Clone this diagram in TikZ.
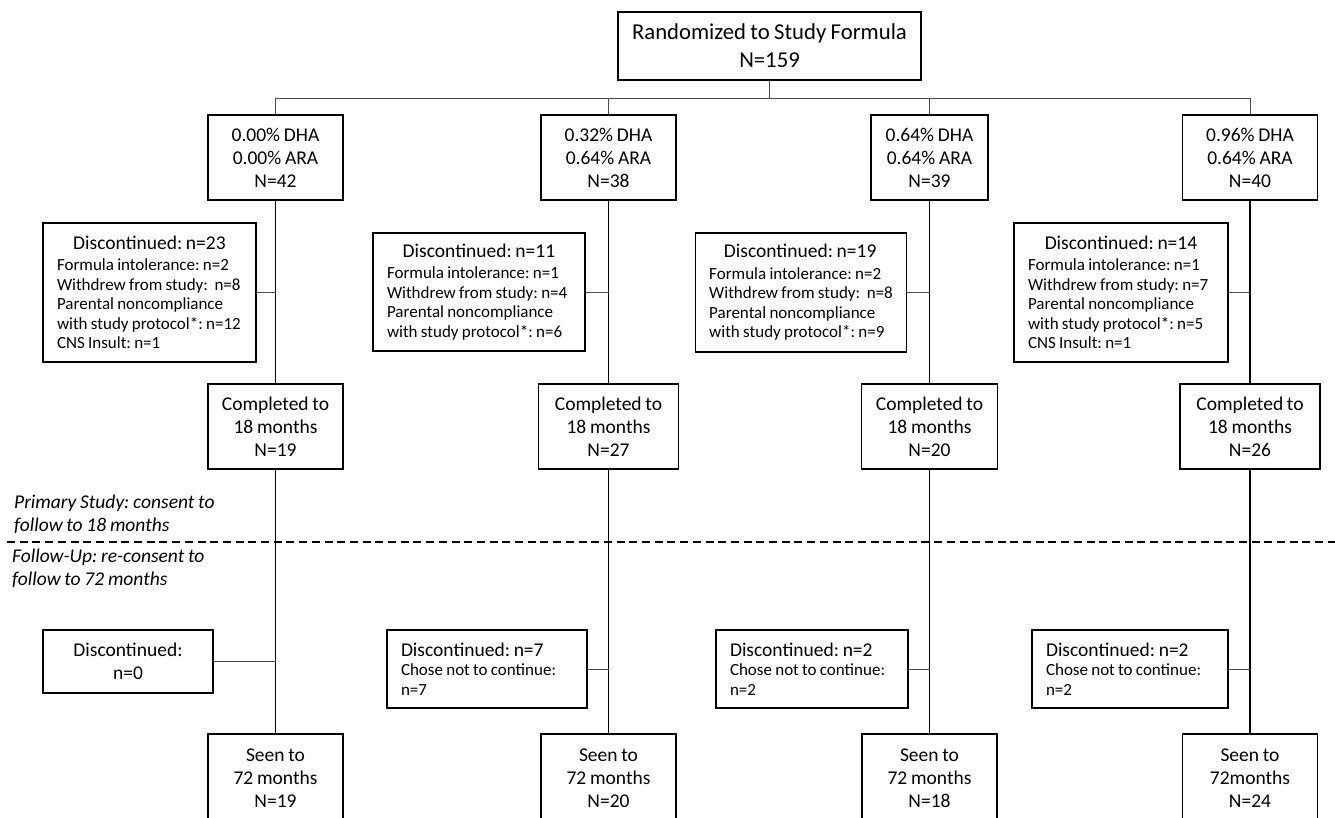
\documentclass[tikz,border=0pt]{standalone}
\usepackage{fontspec}
\setmainfont{Carlito}[WordSpace=0.85]
\usetikzlibrary{calc}
\newcommand\txttop{\fontsize{22.7}{28}\selectfont}
\newcommand\txtbig{\fontsize{19.5}{23}\selectfont}
\newcommand\txtsmall{\fontsize{17}{19.5}\selectfont}
\newcommand\droptitle[3][c]{\makebox[#2][#1]{\txtbig #3}}
\tikzset{
  box/.style={draw,line width=1.3pt,align=center,inner sep=0pt,font=\txtbig},
  dropbox/.style={draw,line width=1.3pt,align=left,inner xsep=14pt,inner ysep=0pt,font=\txtsmall},
  trunk/.style={line width=1.1pt},
  branch/.style={line width=0.8pt,gray!60!black},
  phase/.style={anchor=west,align=left,inner sep=0pt,font=\txtbig\itshape},
  divider/.style={line width=1.5pt,dash pattern=on 8pt off 4.7pt}
}

\begin{document}
\frenchspacing
\begin{tikzpicture}[x=1pt,y=-1pt]
  \useasboundingbox (0,0) rectangle (1335,817);
  \clip (0,0) rectangle (1335,817);

  % randomization and study arms
  \node[box,font=\txttop,minimum width=303,minimum height=68] (rand) at (769.5,46)
    {Randomized to Study Formula\\N=159};
  \node[box,minimum width=135,minimum height=85] (arm1) at (275.5,157.5) {0.00\% DHA\\0.00\% ARA\\N=42};
  \node[box,minimum width=135,minimum height=85] (arm2) at (608.5,157.5) {0.32\% DHA\\0.64\% ARA\\N=38};
  \node[box,minimum width=117,minimum height=85] (arm3) at (929.5,157.5) {0.64\% DHA\\0.64\% ARA\\N=39};
  \node[box,minimum width=135,minimum height=85] (arm4) at (1250,157.5) {0.96\% DHA\\0.64\% ARA\\N=40};

  % split from randomization box
  \coordinate (split) at (769.5,98);
  \draw[branch] (rand.south) -- (split);
  \draw[branch] (arm1.north |- split) -- (arm4.north |- split);
  \foreach \i in {1,...,4}
    \draw[branch] (arm\i.north) -- (arm\i.north |- split);

  % discontinued before 18 months
  \node[dropbox,minimum width=213,minimum height=139] (drop1) at (149.5,292.5)
    {\droptitle{185pt}{Discontinued: n=23}\\[2pt]
     Formula intolerance: n=2\\Withdrew from study:~ n=8\\Parental noncompliance\\with study protocol*: n=12\\CNS Insult: n=1};
  \node[dropbox,minimum width=212,minimum height=118] (drop2) at (479,292)
    {\droptitle{184pt}{Discontinued: n=11}\\[2pt]
     Formula intolerance: n=1\\Withdrew from study: n=4\\Parental noncompliance\\with study protocol*: n=6};
  \node[dropbox,minimum width=210,minimum height=119] (drop3) at (801,292.5)
    {\droptitle{182pt}{Discontinued: n=19}\\[2pt]
     Formula intolerance: n=2\\Withdrew from study:~ n=8\\Parental noncompliance\\with study protocol*: n=9};
  \node[dropbox,minimum width=214,minimum height=139] (drop4) at (1121,292.5)
    {\droptitle{186pt}{Discontinued: n=14}\\[2pt]
     Formula intolerance: n=1\\Withdrew from study: n=7\\Parental noncompliance\\with study protocol*: n=5\\CNS Insult: n=1};

  % completed to 18 months
  \node[box,minimum width=135,minimum height=85] (done1) at (275.5,426.5) {Completed to\\18 months\\N=19};
  \node[box,minimum width=140,minimum height=85] (done2) at (608.5,426.5) {Completed to\\18 months\\N=27};
  \node[box,minimum width=136,minimum height=85] (done3) at (929.5,426.5) {Completed to\\18 months\\N=20};
  \node[box,minimum width=140,minimum height=85] (done4) at (1250,426.5) {Completed to\\18 months\\N=26};

  % primary study / follow-up divider
  \draw[divider] (7,542) -- (1335,542);
  \node[phase] (primary) at (14,514) {Primary Study: consent to\\follow to 18 months};
  \node[phase] (followup) at (12,568.5) {Follow-Up: re-consent to\\follow to 72 months};

  % discontinued in follow-up
  \node[box,minimum width=170,minimum height=63] (lost1) at (128,661.5) {Discontinued:\\n=0};
  \node[dropbox,minimum width=200,minimum height=78] (lost2) at (487,669)
    {\droptitle[l]{172pt}{Discontinued: n=7}\\Chose not to continue:\\n=7};
  \node[dropbox,minimum width=192,minimum height=78] (lost3) at (812,669)
    {\droptitle[l]{164pt}{Discontinued: n=2}\\Chose not to continue:\\n=2};
  \node[dropbox,minimum width=196,minimum height=78] (lost4) at (1130,669)
    {\droptitle[l]{168pt}{Discontinued: n=2}\\Chose not to continue:\\n=2};

  % seen to 72 months
  \node[box,minimum width=135,minimum height=88] (seen1) at (275.5,778) {Seen to\\72 months\\N=19};
  \node[box,minimum width=135,minimum height=88] (seen2) at (608.5,778) {Seen to\\72 months\\N=20};
  \node[box,minimum width=135,minimum height=88] (seen3) at (929.5,778) {Seen to\\72 months\\N=18};
  \node[box,minimum width=135,minimum height=88] (seen4) at (1250,778) {Seen to\\72months\\N=24};

  % trunks and side branches
  \foreach \i in {1,...,4} {
    \draw[trunk] (arm\i.south) -- (done\i.north);
    \draw[trunk] (done\i.south) -- (seen\i.north);
    \draw[branch] (drop\i.east) -- (drop\i.east -| arm\i.south);
    \draw[branch] (lost\i.east) -- (lost\i.east -| seen\i.north);
  }
\end{tikzpicture}
\end{document}
